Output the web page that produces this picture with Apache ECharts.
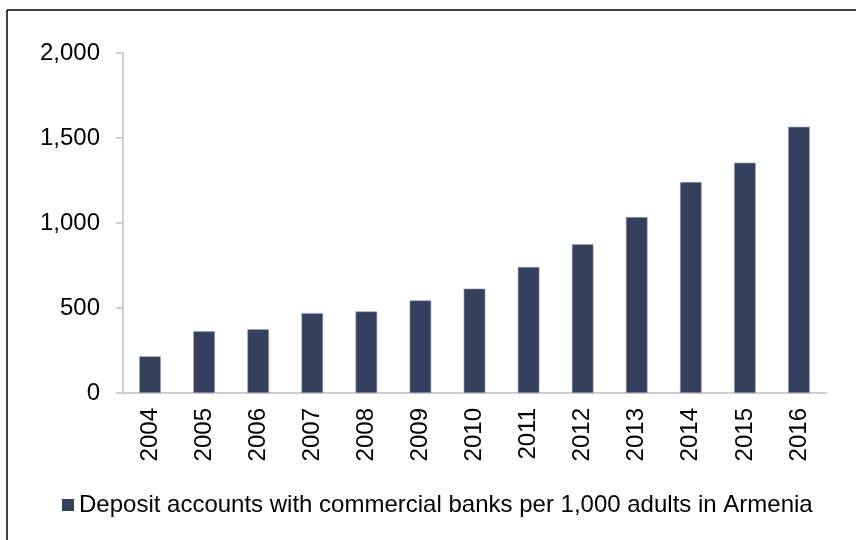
<!DOCTYPE html>
<html>
<head>
<meta charset="utf-8">
<script src="https://cdn.jsdelivr.net/npm/echarts@6/dist/echarts.min.js"></script>
<style>html,body{margin:0;padding:0;background:#fff}#c{width:856px;height:540px}</style>
</head>
<body>
<div id="c"></div>
<script>
const years = ['2004','2005','2006','2007','2008','2009','2010','2011','2012','2013','2014','2015','2016'];
const deposits = [216, 363, 375, 470, 480, 545, 614, 741, 875, 1035, 1241, 1355, 1566];
const seriesName = 'Deposit accounts with commercial banks per 1,000 adults in Armenia';
const yTicks = [0, 500, 1000, 1500, 2000];

const chart = echarts.init(document.getElementById('c'));
const font = 'Liberation Sans, Arial, sans-serif';
chart.setOption({
  animation: false,
  backgroundColor: '#fff',
  textStyle: { fontFamily: font },
  grid: { left: 123, right: 30, top: 53, bottom: 147, containLabel: false },
  legend: {
    data: [{ name: seriesName, itemStyle: { borderWidth: 0 } }],
    left: 57, top: 488,
    itemWidth: 12, itemHeight: 12, itemGap: 5,
    icon: 'rect',
    textStyle: { fontSize: 24, color: '#000', fontFamily: font }
  },
  xAxis: {
    type: 'category',
    data: years,
    axisLine: { lineStyle: { color: '#BFBFBF', width: 1.5 } },
    axisTick: { show: false },
    axisLabel: { rotate: 90, fontSize: 24, color: '#000', margin: 15, fontFamily: font }
  },
  yAxis: {
    type: 'value',
    min: yTicks[0], max: yTicks[yTicks.length - 1], interval: 500,
    axisLine: { show: true, lineStyle: { color: '#BFBFBF', width: 1.5 } },
    axisTick: { show: true, length: 7, lineStyle: { color: '#BFBFBF', width: 1.5 } },
    splitLine: { show: false },
    axisLabel: {
      fontSize: 24, color: '#000', margin: 23, fontFamily: font,
      formatter: v => v.toLocaleString('en-US')
    }
  },
  series: [{
    name: seriesName,
    type: 'bar',
    data: deposits,
    barWidth: '40%',
    itemStyle: { color: '#34405E', borderColor: '#9AA3B8', borderWidth: 0.6 }
  }],
  graphic: [
    { type: 'line', shape: { x1: 7, y1: 10, x2: 856, y2: 10 }, style: { stroke: '#000', lineWidth: 1.5 } },
    { type: 'line', shape: { x1: 7, y1: 10, x2: 7, y2: 540 }, style: { stroke: '#000', lineWidth: 1.5 } }
  ]
});
</script>
</body>
</html>
